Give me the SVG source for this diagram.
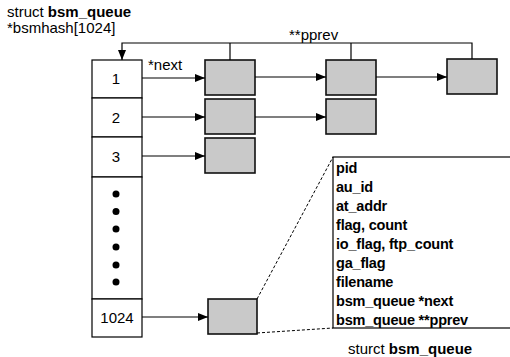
<svg xmlns="http://www.w3.org/2000/svg" width="510" height="357" viewBox="0 0 510 357">
<style>
text{font-family:"Liberation Sans",Arial,sans-serif;fill:#000}
.t{font-size:15px}
.n{font-size:15px}
.b{font-weight:bold}
.cell{fill:#fff;stroke:#000;stroke-width:1.2}
.box{fill:#c9c9c9;stroke:#111;stroke-width:1.6}
.ln{fill:none;stroke:#000;stroke-width:1.2}
.dash{fill:none;stroke:#000;stroke-width:1;stroke-dasharray:3,2}
.f{font-size:14.5px;font-weight:bold;letter-spacing:-0.2px}
</style>
<defs>
<marker id="ah" viewBox="0 0 10 8" refX="10" refY="4" markerWidth="10" markerHeight="8" markerUnits="userSpaceOnUse" orient="auto">
<path d="M0,0 L10,4 L0,8 z" fill="#000"/>
</marker>
</defs>
<g id="title">
<text class="t" x="7" y="17">struct <tspan class="b">bsm_queue</tspan></text>
<text class="t" x="7" y="33">*bsmhash[1024]</text>
</g>
<g id="array">
<rect class="cell" x="92" y="60" width="50" height="38"/>
<text class="n" x="116" y="84" text-anchor="middle">1</text>
<rect class="cell" x="92" y="98" width="50" height="39"/>
<text class="n" x="116" y="123" text-anchor="middle">2</text>
<rect class="cell" x="92" y="137" width="50" height="40"/>
<text class="n" x="116" y="162" text-anchor="middle">3</text>
<rect class="cell" x="92" y="177" width="50" height="122"/>
<circle cx="116" cy="194" r="3.5"/>
<circle cx="116" cy="211.5" r="3.5"/>
<circle cx="116" cy="229" r="3.5"/>
<circle cx="116" cy="247" r="3.5"/>
<circle cx="116" cy="265" r="3.5"/>
<circle cx="116" cy="282" r="3.5"/>
<rect class="cell" x="92" y="299" width="50" height="38"/>
<text class="n" x="117" y="323" text-anchor="middle">1024</text>
</g>
<g id="n1a"><rect class="box" x="205" y="60" width="50" height="35"/></g>
<g id="n1b"><rect class="box" x="326" y="60" width="50" height="35"/></g>
<g id="n1c"><rect class="box" x="447" y="59" width="50" height="35"/></g>
<g id="n2a"><rect class="box" x="205" y="99" width="50" height="35"/></g>
<g id="n2b"><rect class="box" x="326" y="99" width="50" height="35"/></g>
<g id="n3a"><rect class="box" x="205" y="138" width="50" height="35"/></g>
<g id="n1024"><rect class="box" x="208" y="299" width="49" height="35"/></g>
<g id="struct">
<rect x="333" y="157" width="180" height="171" fill="#fff" stroke="#000" stroke-width="1.2"/>
<text class="f" x="336" y="173">pid</text>
<text class="f" x="336" y="192">au_id</text>
<text class="f" x="336" y="211">at_addr</text>
<text class="f" x="336" y="230">flag, count</text>
<text class="f" x="336" y="249">io_flag, ftp_count</text>
<text class="f" x="336" y="268">ga_flag</text>
<text class="f" x="336" y="287">filename</text>
<text class="f" x="336" y="306">bsm_queue *next</text>
<text class="f" x="336" y="325">bsm_queue **pprev</text>
<text class="t" x="348" y="354">sturct <tspan class="b">bsm_queue</tspan></text>
</g>
<g id="connectors">
<line class="ln" x1="142" y1="78" x2="205" y2="78" marker-end="url(#ah)"/>
<line class="ln" x1="255" y1="77" x2="326" y2="77" marker-end="url(#ah)"/>
<line class="ln" x1="376" y1="77" x2="447" y2="77" marker-end="url(#ah)"/>
<line class="ln" x1="142" y1="117" x2="205" y2="117" marker-end="url(#ah)"/>
<line class="ln" x1="255" y1="117" x2="326" y2="117" marker-end="url(#ah)"/>
<line class="ln" x1="142" y1="156" x2="205" y2="156" marker-end="url(#ah)"/>
<line class="ln" x1="142" y1="317" x2="208" y2="317" marker-end="url(#ah)"/>
<polyline class="ln" points="472,59 472,43 122,43 122,60" marker-end="url(#ah)"/>
<line class="ln" x1="230" y1="43" x2="230" y2="60"/>
<line class="ln" x1="351" y1="43" x2="351" y2="60"/>
<text class="t" x="148" y="70">*next</text>
<text class="t" x="289" y="40">**pprev</text>
<line class="dash" x1="257" y1="299" x2="333" y2="157"/>
<line class="dash" x1="257" y1="333" x2="333" y2="328"/>
</g>
</svg>
